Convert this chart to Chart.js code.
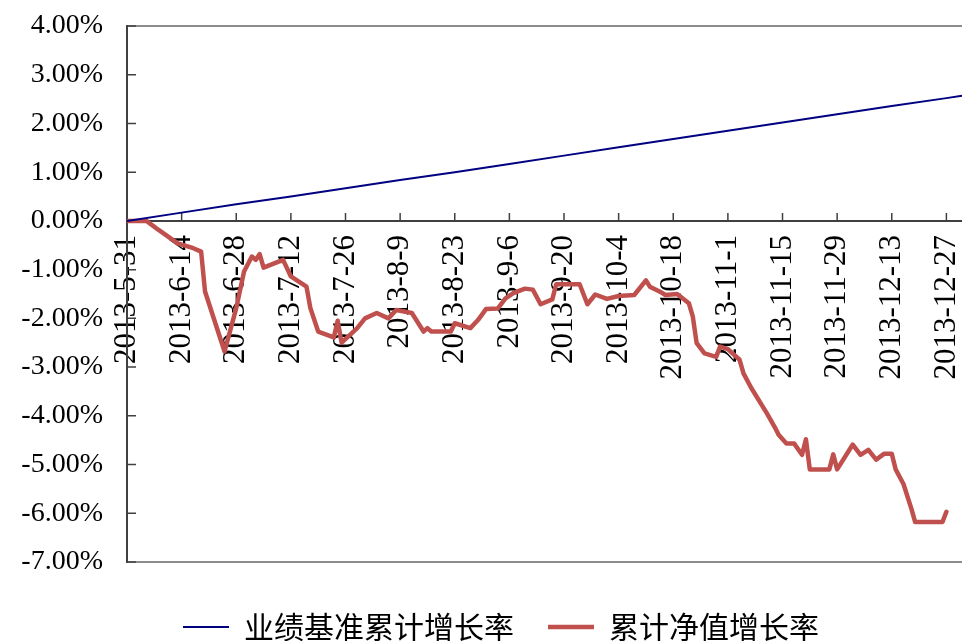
<!DOCTYPE html>
<html>
<head>
<meta charset="utf-8">
<script src="https://cdn.jsdelivr.net/npm/chart.js@4.4.0/dist/chart.umd.min.js"></script>
<style>
  html, body { margin: 0; padding: 0; background: #fff; }
</style>
</head>
<body>
<canvas id="chart" width="962" height="641"></canvas>
<script>
// x = calendar days since 2013-5-31
const tickLabels = ['2013-5-31', '2013-6-14', '2013-6-28', '2013-7-12', '2013-7-26', '2013-8-9', '2013-8-23', '2013-9-6',
    '2013-9-20', '2013-10-4', '2013-10-18', '2013-11-1', '2013-11-15', '2013-11-29', '2013-12-13', '2013-12-27'];

const seriesNames = ['业绩基准累计增长率', '累计净值增长率'];

const benchDays = [0, 14, 28, 42, 56, 70, 84, 98, 112, 126, 140, 154, 168, 182, 196, 210, 214];
const benchPct = [0, 0.17, 0.34, 0.50, 0.67, 0.84, 1.00, 1.17, 1.34, 1.51, 1.68, 1.85, 2.02, 2.19, 2.36, 2.52, 2.57];

const navDays = [0, 5, 8, 13, 17, 19, 20, 25, 28, 30, 32, 33, 34, 35, 40, 42, 46, 47, 49, 53,
    54, 55, 59, 61, 64, 67, 69, 73, 76, 77, 78, 83, 84, 88, 90, 92, 95, 97, 99, 102,
    104, 106, 109, 110, 116, 118, 120, 123, 126, 130, 133, 134, 137, 138, 141, 144, 145, 146, 148, 151,
    152, 154, 157, 158, 160, 164, 166, 167, 169, 171, 173, 174, 175, 180, 181, 182, 186, 188, 190, 192,
    194, 196, 197, 199, 201, 202, 209, 210];
const navPct = [0, 0, -0.18, -0.46, -0.56, -0.63, -1.45, -2.68, -1.79, -1.04, -0.73, -0.80, -0.68, -0.96, -0.80, -1.14, -1.35, -1.79, -2.27, -2.39,
    -2.05, -2.50, -2.20, -2.00, -1.89, -2.00, -1.83, -1.89, -2.27, -2.20, -2.27, -2.27, -2.10, -2.20, -2.03, -1.81, -1.80, -1.59, -1.48, -1.39,
    -1.41, -1.71, -1.61, -1.30, -1.30, -1.71, -1.51, -1.60, -1.54, -1.52, -1.22, -1.35, -1.47, -1.52, -1.50, -1.69, -1.96, -2.51, -2.72, -2.79,
    -2.58, -2.63, -2.85, -3.13, -3.43, -3.95, -4.23, -4.39, -4.57, -4.57, -4.80, -4.48, -5.10, -5.10, -4.79, -5.10, -4.59, -4.80, -4.70, -4.90,
    -4.78, -4.78, -5.10, -5.40, -5.90, -6.18, -6.18, -5.97];

const axisColor = '#404040';
const frameColor = '#8c8c8c';

function noPadding(scale) {
    scale.paddingLeft = 0;
    scale.paddingRight = 0;
    scale.paddingTop = 0;
    scale.paddingBottom = 0;
}

// small inward tick marks, like the original
const tickMarks = {
    id: 'tickMarks',
    afterLayout(chart) {
        // the original legend sits a bit right of centre
        chart.legend.left += 20;
        chart.legend.right += 20;
    },
    beforeDatasetsDraw(chart) {
        const { ctx, chartArea, scales: { x, y } } = chart;
        const zero = y.getPixelForValue(0);
        ctx.save();
        ctx.strokeStyle = axisColor;
        ctx.lineWidth = 1.5;
        ctx.beginPath();
        x.ticks.forEach(t => {
            const px = x.getPixelForValue(t.value);
            ctx.moveTo(px, zero);
            ctx.lineTo(px, zero - 8);
        });
        y.ticks.forEach(t => {
            const py = y.getPixelForValue(t.value);
            ctx.moveTo(chartArea.left, py);
            ctx.lineTo(chartArea.left + 9, py);
        });
        ctx.stroke();
        ctx.restore();
    }
};

function frameAxis(position, height) {
    return {
        type: 'linear', position: position, min: 0, max: 214, display: true,
        ticks: { display: false },
        grid: { display: false, drawTicks: false },
        border: { color: frameColor, width: 2 },
        afterFit(scale) { noPadding(scale); scale.height = height; }
    };
}

new Chart(document.getElementById('chart'), {
    type: 'line',
    data: {
        datasets: [{
            label: seriesNames[0],
            data: benchDays.map((d, i) => ({ x: d, y: benchPct[i] })),
            borderColor: '#000080',
            backgroundColor: '#000080',
            borderWidth: 2,
            pointRadius: 0,
            tension: 0
        }, {
            label: seriesNames[1],
            data: navDays.map((d, i) => ({ x: d, y: navPct[i] })),
            borderColor: '#c0504d',
            backgroundColor: '#c0504d',
            borderWidth: 4.5,
            borderJoinStyle: 'round',
            borderCapStyle: 'round',
            pointRadius: 0,
            tension: 0
        }]
    },
    options: {
        responsive: false,
        animation: false,
        layout: { padding: { left: 0, right: 0, top: 26, bottom: -11 } },
        scales: {
            x: {
                type: 'linear',
                position: { y: 0 },
                min: 0,
                max: 214,
                ticks: {
                    stepSize: 14,
                    includeBounds: false,
                    autoSkip: false,
                    minRotation: 90,
                    maxRotation: 90,
                    padding: 14,
                    color: '#000',
                    font: { family: 'Liberation Serif', size: 31 },
                    callback: v => tickLabels[v / 14]
                },
                grid: { display: false, drawTicks: false },
                border: { color: axisColor, width: 2 },
                afterFit: noPadding
            },
            xTop: frameAxis('top', 0),
            xBottom: frameAxis('bottom', 16),
            y: {
                type: 'linear',
                min: -7,
                max: 4,
                ticks: {
                    stepSize: 1,
                    padding: 24,
                    color: '#000',
                    font: { family: 'Liberation Serif', size: 28 },
                    callback: v => v.toFixed(2) + '%'
                },
                grid: { display: false, drawTicks: false },
                border: { color: axisColor, width: 2 },
                afterFit(scale) { noPadding(scale); scale.width = 127; }
            }
        },
        plugins: {
            tooltip: { enabled: false },
            legend: {
                position: 'bottom',
                labels: {
                    usePointStyle: true,
                    pointStyle: 'line',
                    pointStyleWidth: 46,
                    padding: 34,
                    color: '#000',
                    font: { family: 'Noto Sans CJK SC', size: 30 }
                }
            }
        }
    },
    plugins: [tickMarks]
});
</script>
</body>
</html>
